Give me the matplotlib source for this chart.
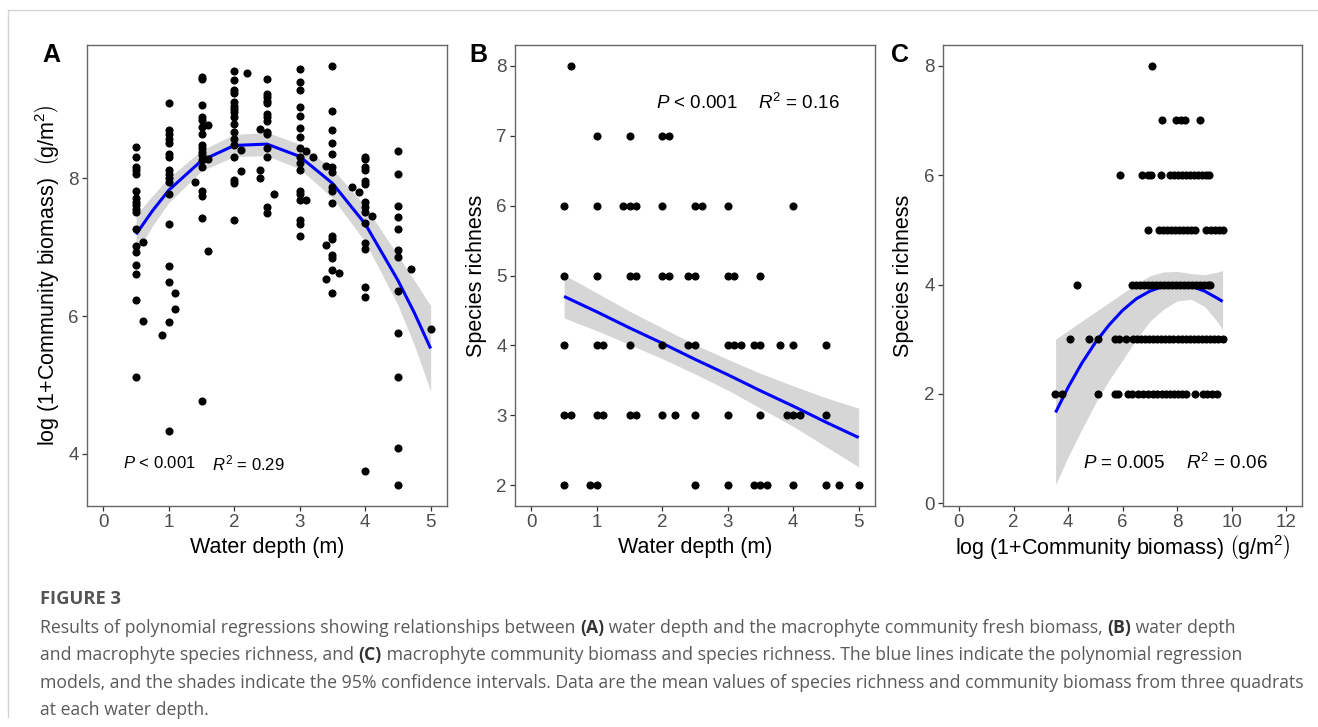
import numpy as np
import matplotlib
matplotlib.use("Agg")
import matplotlib.pyplot as plt
from matplotlib.lines import Line2D

W, H = 1318, 727

# ---------------- data ----------------
# A: water depth vs log(1+community biomass)
a_depth = [0.5, 0.6, 0.9, 1.0, 1.1, 1.4, 1.5, 1.6, 2.0, 2.1, 2.2, 2.4, 2.5, 2.6,
           3.0, 3.1, 3.2, 3.4, 3.5, 3.6, 3.8, 3.9, 4.0, 4.1, 4.5, 4.7, 5.0]
a_biomass = [
    [8.46, 8.31, 8.17, 8.12, 8.07, 7.82, 7.71, 7.66, 7.61, 7.56, 7.52, 7.27, 7.02, 6.93, 6.74, 6.61, 6.23, 5.12],
    [7.07, 5.93],
    [5.73],
    [9.09, 8.70, 8.64, 8.58, 8.51, 8.35, 8.31, 8.12, 8.07, 8.00, 7.95, 7.78, 7.34, 6.73, 6.49, 5.91, 4.33],
    [6.34, 6.11],
    [7.95],
    [9.48, 9.44, 9.07, 8.90, 8.85, 8.75, 8.65, 8.48, 8.44, 8.39, 8.34, 8.27, 8.17, 7.82, 7.75, 7.43, 4.77],
    [8.78, 8.28, 6.94],
    [9.56, 9.43, 9.28, 9.24, 9.11, 9.06, 9.01, 8.97, 8.89, 8.79, 8.68, 8.58, 8.48, 8.31, 7.98, 7.93, 7.39],
    [8.42, 8.11],
    [9.53],
    [8.72, 8.12, 8.00],
    [9.45, 9.23, 9.18, 9.13, 9.09, 8.94, 8.89, 8.84, 8.68, 8.64, 8.44, 8.31, 7.59, 7.50],
    [7.77],
    [9.59, 9.40, 9.28, 9.04, 8.91, 8.74, 8.61, 8.44, 8.31, 8.22, 8.13, 7.82, 7.78, 7.69, 7.39, 7.34, 7.17],
    [8.40, 7.69],
    [8.31],
    [8.18, 7.04, 6.54],
    [9.63, 8.98, 8.70, 8.52, 8.35, 8.17, 8.10, 7.87, 7.82, 7.65, 7.16, 7.12, 6.89, 6.85, 6.67, 6.33],
    [6.63],
    [7.88],
    [7.80],
    [8.31, 8.28, 8.16, 8.12, 7.97, 7.92, 7.66, 7.59, 7.52, 7.36, 7.06, 6.98, 6.43, 6.28, 3.75],
    [7.45],
    [8.40, 8.06, 7.60, 7.44, 7.27, 6.96, 6.86, 6.37, 5.76, 5.12, 4.09, 3.54],
    [6.68],
    [5.81],
]
a_fit_x = [0.5, 0.75, 1.0, 1.5, 2.0, 2.5, 3.0, 3.5, 4.0, 4.5, 4.75, 5.0]
a_fit_y = [7.19, 7.53, 7.83, 8.26, 8.48, 8.50, 8.32, 7.93, 7.34, 6.52, 6.05, 5.53]
a_ci_lo = [6.91, 7.31, 7.65, 8.11, 8.32, 8.33, 8.14, 7.72, 7.08, 6.16, 5.58, 4.91]
a_ci_hi = [7.47, 7.75, 8.01, 8.41, 8.64, 8.67, 8.50, 8.14, 7.60, 6.88, 6.52, 6.15]

# B: water depth vs species richness
b_richness = [8, 7, 6, 5, 4, 3, 2]
b_depth = [
    [0.6],
    [1.0, 1.5, 2.0, 2.1],
    [0.5, 1.0, 1.4, 1.5, 1.6, 2.0, 2.5, 2.6, 3.0, 4.0],
    [0.5, 1.0, 1.5, 1.6, 2.0, 2.1, 2.4, 2.5, 3.0, 3.1, 3.5],
    [0.5, 1.0, 1.1, 1.5, 2.0, 2.4, 2.5, 3.0, 3.1, 3.2, 3.4, 3.5, 3.8, 4.0, 4.5],
    [0.5, 0.6, 1.0, 1.1, 1.5, 1.6, 2.0, 2.2, 2.5, 3.0, 3.5, 3.9, 4.0, 4.1, 4.5],
    [0.5, 0.9, 1.0, 2.5, 3.0, 3.4, 3.5, 3.6, 4.0, 4.5, 4.7, 5.0],
]
b_fit_x = [0.5, 1.0, 1.5, 2.0, 2.5, 3.0, 3.5, 4.0, 4.5, 5.0]
b_fit_y = [4.70, 4.48, 4.25, 4.03, 3.80, 3.58, 3.35, 3.13, 2.90, 2.68]
b_ci_lo = [4.39, 4.21, 4.01, 3.81, 3.59, 3.36, 3.10, 2.84, 2.55, 2.26]
b_ci_hi = [5.01, 4.75, 4.49, 4.25, 4.01, 3.80, 3.60, 3.42, 3.25, 3.10]

# C: log(1+community biomass) vs species richness
c_richness = [8, 7, 6, 5, 4, 3, 2]
c_biomass = [
    [7.07],
    [7.43, 7.95, 8.12, 8.29, 8.85],
    [5.90, 6.70, 6.91, 7.04, 7.40, 7.73, 7.88, 8.02, 8.17, 8.32, 8.46, 8.61, 8.76, 8.90, 9.05, 9.16],
    [6.91, 7.32, 7.46, 7.61, 7.76, 7.90, 8.05, 8.20, 8.34, 8.49, 8.65, 9.05, 9.22, 9.38, 9.52, 9.66],
    [4.33, 6.33, 6.49, 6.63, 6.78, 6.93, 7.07, 7.22, 7.37, 7.51, 7.66, 7.80, 7.95, 8.10, 8.24,
     8.39, 8.54, 8.68, 8.83, 8.98, 9.12, 9.20],
    [4.07, 4.77, 5.11, 5.72, 5.88, 6.12, 6.39, 6.54, 6.68, 6.83, 6.98, 7.12, 7.27, 7.41, 7.56,
     7.71, 7.85, 8.04, 8.18, 8.33, 8.48, 8.62, 8.77, 8.91, 9.06, 9.21, 9.35, 9.50, 9.66],
    [3.52, 3.77, 5.11, 5.72, 5.84, 6.21, 6.33, 6.57, 6.76, 6.94, 7.12, 7.27, 7.43, 7.59, 7.73,
     7.88, 8.02, 8.17, 8.32, 8.65, 8.95, 9.10, 9.26, 9.44],
]
c_fit_x = [3.54, 4.0, 4.5, 5.0, 5.5, 6.0, 6.5, 7.0, 7.5, 8.0, 8.5, 9.0, 9.5, 9.66]
c_fit_y = [1.66, 2.12, 2.56, 2.94, 3.26, 3.53, 3.74, 3.88, 3.97, 4.00, 3.97, 3.88, 3.74, 3.69]
c_ci_lo = [0.34, 0.85, 1.35, 1.83, 2.25, 2.62, 3.00, 3.33, 3.55, 3.70, 3.73, 3.60, 3.30, 3.17]
c_ci_hi = [3.00, 3.16, 3.33, 3.50, 3.67, 3.84, 4.01, 4.16, 4.23, 4.24, 4.20, 4.18, 4.23, 4.26]

stats_text = [r"$\it{P}$ < 0.001", r"$\it{R}^2$ = 0.29",
              r"$\it{P}$ < 0.001", r"$\it{R}^2$ = 0.16",
              r"$\it{P}$ = 0.005", r"$\it{R}^2$ = 0.06"]

caption_title = "FIGURE 3"
caption_lines = [
    [("Results of polynomial regressions showing relationships between ", False), ("(A)", True),
     (" water depth and the macrophyte community fresh biomass, ", False), ("(B)", True),
     (" water depth", False)],
    [("and macrophyte species richness, and ", False), ("(C)", True),
     (" macrophyte community biomass and species richness. The blue lines indicate the polynomial regression", False)],
    [("models, and the shades indicate the 95% confidence intervals. Data are the mean values of species "
      "richness and community biomass from three quadrats", False)],
    [("at each water depth.", False)],
]

# ---------------- style ----------------
plt.rcParams['font.family'] = ['Liberation Sans', 'DejaVu Sans']
plt.rcParams['mathtext.fontset'] = 'custom'
plt.rcParams['mathtext.rm'] = 'Liberation Sans'
plt.rcParams['mathtext.it'] = 'Liberation Sans:italic'
plt.rcParams['mathtext.bf'] = 'Liberation Sans:bold'

CAP_FONT = ['Open Sans', 'DejaVu Sans']
SPINE = '#666666'
TICKLAB = '#4D4D4D'
DOT = 34


def flat(xs, groups):
    xx, yy = [], []
    for x, g in zip(xs, groups):
        for v in g:
            xx.append(x)
            yy.append(v)
    return np.array(xx), np.array(yy)


def style(ax, xlim, ylim, xticks, yticks):
    ax.set_xlim(*xlim)
    ax.set_ylim(*ylim)
    ax.set_xticks(xticks)
    ax.set_yticks(yticks)
    for s in ax.spines.values():
        s.set_color(SPINE)
        s.set_linewidth(1.0)
    ax.tick_params(length=3.5, width=0.9, color='#333333', labelcolor=TICKLAB,
                   labelsize=13.5, pad=2.5)


def draw_fit(ax, fx, fy, lo, hi):
    ax.fill_between(fx, lo, hi, color='#999999', alpha=0.4, lw=0, zorder=2)
    ax.plot(fx, fy, color='#0000FF', lw=2.2, zorder=3, solid_capstyle='butt')


fig = plt.figure(figsize=(W / 100, H / 100), dpi=100)


def axes_px(left, top, right, bottom):
    return fig.add_axes([left / W, 1 - bottom / H, (right - left) / W, (bottom - top) / H])


axA = axes_px(87, 45, 447, 506)
axB = axes_px(515, 45, 875, 506)
axC = axes_px(943, 45, 1302, 506)

# panel A
x, y = flat(a_depth, a_biomass)
axA.scatter(x, y, s=DOT, color='black', lw=0, zorder=4)
draw_fit(axA, a_fit_x, a_fit_y, a_ci_lo, a_ci_hi)
style(axA, (-0.25, 5.25), (3.24, 9.94), range(0, 6), [4, 6, 8])
axA.set_xlabel("Water depth (m)", fontsize=15.5, va='center')
axA.xaxis.set_label_coords(0.5, -0.091)
axA.set_ylabel(r"log (1+Community biomass)  $\left(\mathrm{g/m^2}\right)$", fontsize=15.5, va='center')
axA.yaxis.set_label_coords(-0.111, 0.5)
axA.text(0.10, 0.093, stats_text[0], transform=axA.transAxes, fontsize=12, va='center')
axA.text(0.347, 0.093, stats_text[1], transform=axA.transAxes, fontsize=12, va='center')

# panel B
y, x = flat(b_richness, b_depth)
axB.scatter(x, y, s=DOT, color='black', lw=0, zorder=4)
draw_fit(axB, b_fit_x, b_fit_y, b_ci_lo, b_ci_hi)
style(axB, (-0.25, 5.25), (1.70, 8.30), range(0, 6), range(2, 9))
axB.set_xlabel("Water depth (m)", fontsize=15.5, va='center')
axB.xaxis.set_label_coords(0.5, -0.091)
axB.set_ylabel("Species richness", fontsize=15.5, va='center')
axB.yaxis.set_label_coords(-0.108, 0.5)
axB.text(0.392, 0.874, stats_text[2], transform=axB.transAxes, fontsize=13.5, va='center')
axB.text(0.675, 0.874, stats_text[3], transform=axB.transAxes, fontsize=13.5, va='center')

# panel C
y, x = flat(c_richness, c_biomass)
axC.scatter(x, y, s=DOT, color='black', lw=0, zorder=4)
draw_fit(axC, c_fit_x, c_fit_y, c_ci_lo, c_ci_hi)
style(axC, (-0.585, 12.57), (-0.05, 8.38), range(0, 13, 2), range(0, 9, 2))
axC.set_xlabel(r"log (1+Community biomass) $\left(\mathrm{g/m^2}\right)$", fontsize=15.5, va='center')
axC.xaxis.set_label_coords(0.5, -0.088)
axC.set_ylabel("Species richness", fontsize=15.5, va='center')
axC.yaxis.set_label_coords(-0.109, 0.5)
axC.text(0.39, 0.093, stats_text[4], transform=axC.transAxes, fontsize=13.5, va='center')
axC.text(0.677, 0.093, stats_text[5], transform=axC.transAxes, fontsize=13.5, va='center')

# panel letters
for lab, px in zip("ABC", [51, 478, 900]):
    fig.text(px / W, 1 - 55 / H, lab, fontsize=18, fontweight='bold', ha='center', va='center')

# page frame
fig.add_artist(Line2D([7.5 / W, 7.5 / W], [1 - 717 / H, 1 - 10 / H], color='#d4d4d4', lw=1.0))
fig.add_artist(Line2D([7.5 / W, 1.0], [1 - 10 / H, 1 - 10 / H], color='#d4d4d4', lw=1.0))

# caption
r = fig.canvas.get_renderer()


def seg_width(s, bold, size):
    w = 'bold' if bold else 'normal'
    t1 = fig.text(0, 0, s + "|", fontsize=size, fontweight=w, family=CAP_FONT)
    t2 = fig.text(0, 0, "|", fontsize=size, fontweight=w, family=CAP_FONT)
    width = t1.get_window_extent(r).width - t2.get_window_extent(r).width
    t1.remove()
    t2.remove()
    return width


# pick caption size so the longest line spans the same width as in the page
base = 11.0
w3 = sum(seg_width(s, b, base) for s, b in caption_lines[2])
CAP_SIZE = base * 1265.0 / w3

fig.text(40 / W, 1 - 599 / H, caption_title, fontsize=CAP_SIZE * 1.04, fontweight='bold',
         family=CAP_FONT, color='#555555', va='center')
for i, parts in enumerate(caption_lines):
    xp = 40
    yp = 628 + i * 27.3
    for s, bold in parts:
        fig.text(xp / W, 1 - yp / H, s, fontsize=CAP_SIZE, family=CAP_FONT,
                 fontweight='bold' if bold else 'normal',
                 color='#333333' if bold else '#5a5a5a', va='center')
        xp += seg_width(s, bold, CAP_SIZE)

fig.savefig("out.png", dpi=100)
